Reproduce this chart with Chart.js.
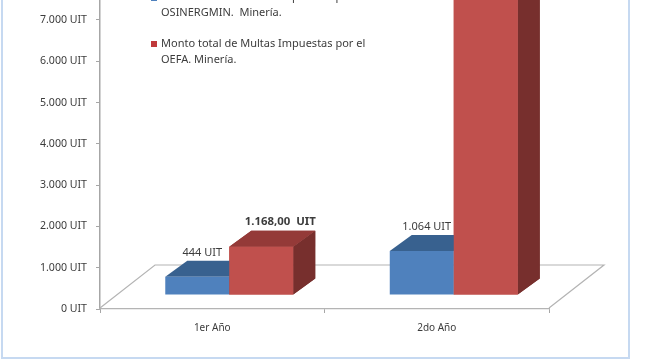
<!DOCTYPE html>
<html>
<head>
<meta charset="utf-8">
<style>
  html, body { margin: 0; padding: 0; background: #fff; overflow: hidden; }
  #wrap { position: relative; width: 645px; height: 363px; filter: blur(0.45px); }
  #frame { position: absolute; left: 1px; top: -6px; width: 625px; height: 361px; border: 2px solid #c6d9f1; }
</style>
<script src="https://cdn.jsdelivr.net/npm/chart.js@4/dist/chart.umd.min.js"></script>
</head>
<body>
<div id="wrap">
  <canvas id="multasChart" width="645" height="363"></canvas>
  <div id="frame"></div>
</div>
<script>
var categories = ['1er Año', '2do Año'];
var osinergmin = [444, 1064];
var oefa = [1168, 9000]; // top of the second bar is cut off in the picture, estimate
var yTicks = [0, 1000, 2000, 3000, 4000, 5000, 6000, 7000];
var osinergminLabels = ['444 UIT', '1.064 UIT'];
var oefaLabels = ['1.168,00  UIT', ''];
var osinergminLegend = ['Monto total de Multas Impuestas por', 'OSINERGMIN.  Minería.'];
var oefaLegend = ['Monto total de Multas Impuestas por el', 'OEFA. Minería.'];

var fontName = '"Noto Sans", sans-serif';
var textColor = '#3c3c3c';
var depthX = 22, depthY = 16;     // 3D depth of the bars
var shiftX = 17, shiftY = 14;     // bars stand inside the floor

var faceColors = [
    { top: '#38618f', side: '#2c4d75' },
    { top: '#943a38', side: '#772f2d' }
];

function drawFaces(chart, index) {
    var ctx = chart.ctx;
    var colors = faceColors[index];
    chart.getDatasetMeta(index).data.forEach(function(bar) {
        var p = bar.getProps(['x', 'y', 'base', 'width'], true);
        var l = p.x - p.width / 2, r = p.x + p.width / 2;
        ctx.fillStyle = colors.side;
        ctx.beginPath();
        ctx.moveTo(r, p.y);
        ctx.lineTo(r + depthX, p.y - depthY);
        ctx.lineTo(r + depthX, p.base - depthY);
        ctx.lineTo(r, p.base);
        ctx.closePath();
        ctx.fill();
        ctx.fillStyle = colors.top;
        ctx.beginPath();
        ctx.moveTo(l, p.y);
        ctx.lineTo(l + depthX, p.y - depthY);
        ctx.lineTo(r + depthX, p.y - depthY);
        ctx.lineTo(r, p.y);
        ctx.closePath();
        ctx.fill();
    });
}

var fake3d = {
    id: 'fake3d',
    beforeDatasetsDraw: function(chart) {
        var ctx = chart.ctx, a = chart.chartArea;
        // floor
        ctx.save();
        ctx.strokeStyle = '#b4b4b4';
        ctx.lineWidth = 1.2;
        ctx.beginPath();
        ctx.moveTo(a.left, a.bottom - 1);
        ctx.lineTo(a.left + 55, a.bottom - 44);
        ctx.lineTo(a.right + 55, a.bottom - 44);
        ctx.lineTo(a.right, a.bottom - 1);
        ctx.stroke();
        ctx.restore();
        ctx.save();
        ctx.translate(shiftX, -shiftY);
    },
    beforeDatasetDraw: function(chart, args) {
        drawFaces(chart, args.index);
    },
    afterDatasetDraw: function(chart, args) {
        // library draws the first dataset last, the red bars have to stay in front
        if (args.index === 0) {
            drawFaces(chart, 1);
            chart.getDatasetMeta(1).controller.draw();
        }
    },
    afterDatasetsDraw: function(chart) {
        var ctx = chart.ctx;
        ctx.restore();
        // value labels
        ctx.save();
        ctx.fillStyle = textColor;
        ctx.textAlign = 'center';
        ctx.textBaseline = 'middle';
        chart.getDatasetMeta(0).data.forEach(function(bar, i) {
            ctx.font = '11px ' + fontName;
            ctx.fillText(osinergminLabels[i], bar.x + shiftX + 5, bar.y - shiftY - 24);
        });
        chart.getDatasetMeta(1).data.forEach(function(bar, i) {
            ctx.font = 'bold 11.4px ' + fontName;
            ctx.fillText(oefaLabels[i], bar.x + shiftX + 19, bar.y - shiftY - 25);
        });
        // legend
        ctx.font = '11px ' + fontName;
        ctx.textAlign = 'left';
        ctx.fillStyle = '#4f81bd';
        ctx.fillRect(151, -5, 6, 6);
        ctx.fillStyle = '#c0393b';
        ctx.fillRect(151, 41, 6, 6);
        ctx.fillStyle = textColor;
        osinergminLegend.forEach(function(t, i) { ctx.fillText(t, 161, -3 + i * 16); });
        oefaLegend.forEach(function(t, i) { ctx.fillText(t, 161, 44 + i * 16); });
        ctx.restore();
    }
};

var ctx = document.getElementById('multasChart').getContext('2d');
var multasChart = new Chart(ctx, {
    type: 'bar',
    data: {
        labels: categories,
        datasets: [{
            label: osinergminLegend.join(' '),
            data: osinergmin,
            backgroundColor: '#4f81bd',
            categoryPercentage: 0.57,
            barPercentage: 1,
            clip: false
        }, {
            label: oefaLegend.join(' '),
            data: oefa,
            backgroundColor: '#c0504d',
            categoryPercentage: 0.57,
            barPercentage: 1,
            clip: false
        }]
    },
    options: {
        responsive: false,
        animation: false,
        layout: { padding: { top: 0, left: 0, right: 96, bottom: 0 } },
        scales: {
            y: {
                min: 0,
                max: 7482,
                afterBuildTicks: function(scale) {
                    scale.ticks = yTicks.map(function(v) { return { value: v }; });
                },
                afterFit: function(scale) {
                    scale.width = 100;
                    scale.paddingTop = 0;
                    scale.paddingBottom = 0;
                },
                border: { color: '#a6a6a6', width: 1.5 },
                grid: { drawOnChartArea: false, tickLength: 4, tickColor: '#a6a6a6' },
                ticks: {
                    color: textColor,
                    padding: 9,
                    autoSkip: false,
                    font: { family: fontName, size: 10.6 },
                    callback: function(v) {
                        return (v === 0 ? '0' : (v / 1000) + '.000') + ' UIT';
                    }
                }
            },
            x: {
                afterFit: function(scale) {
                    scale.height = 54;
                    scale.paddingLeft = 0;
                    scale.paddingRight = 0;
                },
                border: { color: '#b4b4b4', width: 1.2 },
                grid: { offset: true, drawOnChartArea: false, tickLength: 4, tickColor: '#a6a6a6' },
                ticks: {
                    color: textColor,
                    padding: 9,
                    font: { family: fontName, size: 10 }
                }
            }
        },
        plugins: {
            legend: { display: false },
            title: { display: false },
            tooltip: { enabled: false }
        }
    },
    plugins: [fake3d]
});
</script>
</body>
</html>
